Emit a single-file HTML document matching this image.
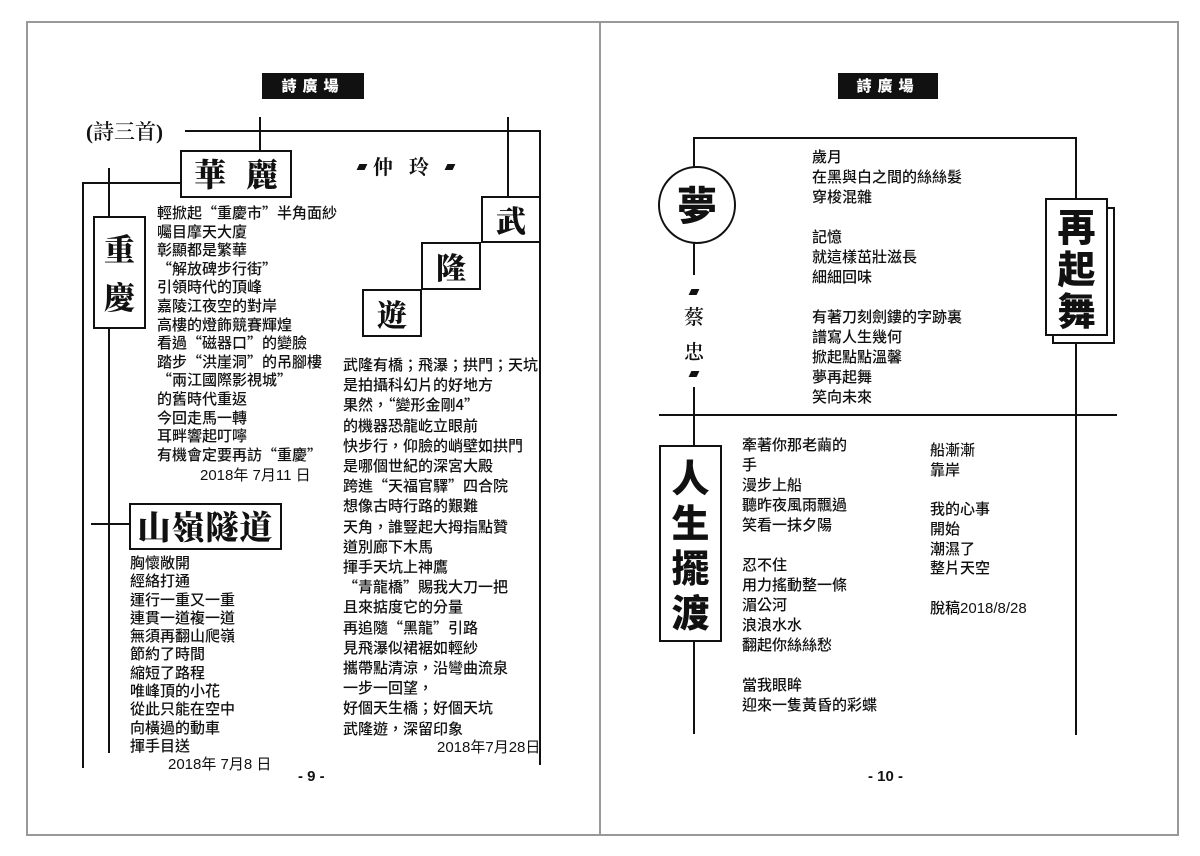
<!DOCTYPE html>
<html><head><meta charset="utf-8">
<style>
body{margin:0;width:1200px;height:856px;background:#fff;position:relative;overflow:hidden;font-family:"Noto Sans CJK TC",sans-serif;color:#111}
.a{position:absolute}
.l{position:absolute;background:#111}
.box{position:absolute;border:2px solid #111;background:#fff;box-sizing:border-box;white-space:nowrap}
.p{position:absolute;font-size:15px;font-weight:500;white-space:pre;font-family:"Noto Sans CJK TC",sans-serif}
.d{position:absolute;font-size:15px;white-space:pre;font-family:"Liberation Sans","Noto Sans CJK TC",sans-serif}
.hd{position:absolute;background:#111;color:#fff;font-weight:900;font-size:15px;text-align:center;line-height:26px;letter-spacing:6px;font-family:"Noto Sans CJK TC",sans-serif}
.cal{font-family:"Noto Serif CJK SC",serif;font-weight:900;text-align:center}
.bs{font-family:"Noto Sans CJK TC",sans-serif;font-weight:900;text-align:center}
.para{position:absolute;width:8px;height:6px;background:#111;transform:skewX(-25deg)}
</style></head><body>
<div class="a" style="left:26px;top:21px;width:1149px;height:811px;border:2px solid #999"></div>
<div class="a" style="left:599px;top:21px;width:2px;height:813px;background:#999"></div>

<!-- LEFT PAGE -->
<div class="hd" style="left:262px;top:73px;width:102px;height:26px">詩廣場</div>
<div class="a" style="left:86px;top:116px;font-size:21px;font-family:'Liberation Serif','Noto Serif CJK SC',serif;font-weight:600">(詩三首)</div>
<div class="l" style="left:185px;top:130px;width:356px;height:2px"></div>
<div class="l" style="left:539px;top:130px;width:2px;height:635px"></div>
<div class="l" style="left:259px;top:117px;width:2px;height:35px"></div>
<div class="l" style="left:82px;top:182px;width:100px;height:2px"></div>
<div class="l" style="left:82px;top:182px;width:2px;height:586px"></div>
<div class="l" style="left:108px;top:168px;width:2px;height:585px"></div>
<div class="l" style="left:91px;top:523px;width:40px;height:2px"></div>
<div class="l" style="left:507px;top:117px;width:2px;height:80px"></div>

<div class="box cal" style="left:180px;top:150px;width:112px;height:48px;font-size:32px;line-height:42px;word-spacing:0"><span style="letter-spacing:20px;margin-right:-20px">華麗</span></div>
<div class="box cal" style="left:93px;top:216px;width:53px;height:113px;font-size:31px;line-height:48px;padding-top:6px">重<br>慶</div>
<div class="box cal" style="left:481px;top:196px;width:60px;height:47px;font-size:30px;line-height:42px">武</div>
<div class="box cal" style="left:421px;top:242px;width:60px;height:48px;font-size:30px;line-height:44px">隆</div>
<div class="box cal" style="left:362px;top:289px;width:60px;height:48px;font-size:30px;line-height:44px">遊</div>
<div class="box cal" style="left:129px;top:503px;width:153px;height:47px;font-size:33px;line-height:42px;letter-spacing:1px">山嶺隧道</div>

<div class="para" style="left:358px;top:164px"></div>
<div class="a" style="left:373px;top:151px;font-size:20px;font-family:'Noto Serif CJK SC',serif;font-weight:700;letter-spacing:16px">仲玲</div>
<div class="para" style="left:446px;top:164px"></div>

<div class="p" style="left:157px;top:204px;line-height:18.6px">輕掀起“重慶市”半角面紗
囑目摩天大廈
彰顯都是繁華
“解放碑步行街”
引領時代的頂峰
嘉陵江夜空的對岸
高樓的燈飾競賽輝煌
看過“磁器口”的變臉
踏步“洪崖洞”的吊腳樓
“兩江國際影視城”
的舊時代重返
今回走馬一轉
耳畔響起叮嚀
有機會定要再訪“重慶”</div>
<div class="d" style="left:200px;top:466px;line-height:20px">2018年 7月11 日</div>

<div class="p" style="left:343px;top:355px;line-height:20.2px">武隆有橋；飛瀑；拱門；天坑
是拍攝科幻片的好地方
果然，“變形金剛4”
的機器恐龍屹立眼前
快步行，仰臉的峭壁如拱門
是哪個世紀的深宮大殿
跨進“天福官驛”四合院
想像古時行路的艱難
天角，誰豎起大拇指點贊
道別廊下木馬
揮手天坑上神鷹
“青龍橋”賜我大刀一把
且來掂度它的分量
再追隨“黑龍”引路
見飛瀑似裙裾如輕紗
攜帶點清涼，沿彎曲流泉
一步一回望，
好個天生橋；好個天坑
武隆遊，深留印象</div>
<div class="d" style="left:437px;top:738px;line-height:20px">2018年7月28日</div>

<div class="p" style="left:130px;top:554px;line-height:18.3px">胸懷敞開
經絡打通
運行一重又一重
連貫一道複一道
無須再翻山爬嶺
節約了時間
縮短了路程
唯峰頂的小花
從此只能在空中
向橫過的動車
揮手目送</div>
<div class="d" style="left:168px;top:755px;line-height:20px">2018年 7月8 日</div>
<div class="a" style="left:298px;top:768px;font-size:15px;font-weight:bold;font-family:'Liberation Sans',sans-serif">- 9 -</div>

<!-- RIGHT PAGE -->
<div class="hd" style="left:838px;top:73px;width:100px;height:26px">詩廣場</div>
<div class="l" style="left:693px;top:137px;width:384px;height:2px"></div>
<div class="l" style="left:1075px;top:137px;width:2px;height:598px"></div>
<div class="l" style="left:693px;top:137px;width:2px;height:138px"></div>
<div class="l" style="left:693px;top:387px;width:2px;height:347px"></div>
<div class="l" style="left:659px;top:414px;width:458px;height:2px"></div>

<div class="a" style="left:658px;top:166px;width:78px;height:78px;border:2px solid #111;border-radius:50%;box-sizing:border-box;background:#fff"></div>
<div class="a bs" style="left:658px;top:170px;width:78px;font-size:40px;line-height:66px">夢</div>

<div class="para" style="left:690px;top:289px"></div>
<div class="a" style="left:684px;top:298px;font-size:20px;font-family:'Noto Serif CJK SC',serif;font-weight:600;line-height:35px">蔡<br>忠</div>
<div class="para" style="left:690px;top:371px"></div>

<div class="box" style="left:1052px;top:207px;width:63px;height:137px"></div>
<div class="box bs" style="left:1045px;top:198px;width:63px;height:138px;font-size:38px;line-height:42px;padding-top:4px">再<br>起<br>舞</div>

<div class="box bs" style="left:659px;top:445px;width:63px;height:197px;font-size:38px;line-height:45px;padding-top:6px">人<br>生<br>擺<br>渡</div>

<div class="p" style="left:812px;top:147px;line-height:20px">歲月
在黑與白之間的絲絲髮
穿梭混雜

記憶
就這樣茁壯滋長
細細回味

有著刀刻劍鏤的字跡裏
譜寫人生幾何
掀起點點溫馨
夢再起舞
笑向未來</div>

<div class="p" style="left:742px;top:435px;line-height:20px">牽著你那老繭的
手
漫步上船
聽昨夜風雨飄過
笑看一抹夕陽

忍不住
用力搖動整一條
湄公河
浪浪水水
翻起你絲絲愁

當我眼眸
迎來一隻黃昏的彩蝶</div>

<div class="p" style="left:930px;top:440px;line-height:19.7px">船漸漸
靠岸

我的心事
開始
潮濕了
整片天空

脫稿<span style="font-family:'Liberation Sans',sans-serif">2018/8/28</span></div>
<div class="a" style="left:868px;top:768px;font-size:15px;font-weight:bold;font-family:'Liberation Sans',sans-serif">- 10 -</div>
</body></html>
